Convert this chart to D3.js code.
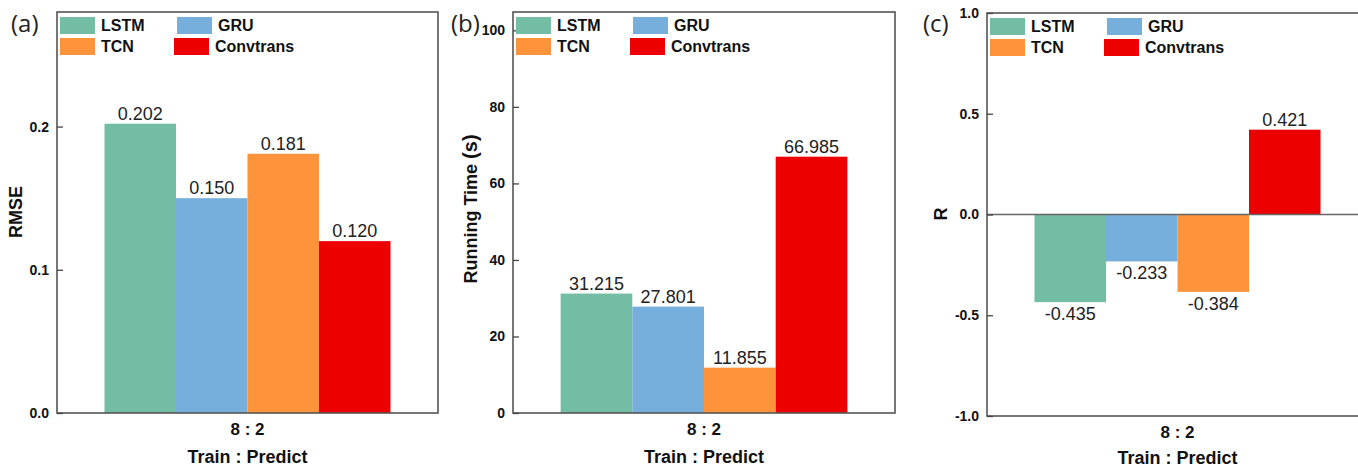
<!DOCTYPE html>
<html>
<head>
<meta charset="utf-8">
<script src="https://cdn.jsdelivr.net/npm/d3@7"></script>
<style>
  body { margin: 0; background: #fff; }
  svg { display: block; font-family: Arial, "Liberation Sans", sans-serif; }
</style>
</head>
<body>
<div id="chart"></div>
<script>
// data
const category = ["8 : 2"];
const models = ["LSTM", "GRU", "TCN", "Convtrans"];
const colors = ["#74bda5", "#76afdc", "#fd933a", "#ec0000"];
const rmse = [0.202, 0.150, 0.181, 0.120];
const runTime = [31.215, 27.801, 11.855, 66.985];
const rValues = [-0.435, -0.233, -0.384, 0.421];
const rmseTicks = [0.0, 0.1, 0.2];
const timeTicks = [0, 20, 40, 60, 80, 100];
const rTicks = [-1.0, -0.5, 0.0, 0.5, 1.0];

const svg = d3.select("#chart").append("svg")
    .attr("width", 1358).attr("height", 467);

const colorScale = d3.scaleOrdinal().domain(models).range(colors);
// plain hyphen for negatives, like the original figure
const hyph = f => (d => f(d).replace("\u2212", "-"));

function panel(opt) {
  const w = opt.width, h = opt.height;
  const g = svg.append("g").attr("transform", `translate(${opt.left},${opt.top})`);

  const x0 = d3.scaleBand().domain(category).range([0, w]).paddingInner(0).paddingOuter(0.166);
  const x1 = d3.scaleBand().domain(models).range([0, x0.bandwidth()]);
  const y = d3.scaleLinear().domain(opt.domain).range([h, 0]);

  // bars
  const grp = g.append("g").attr("transform", `translate(${x0(category[0])},0)`);
  const rows = models.map((m, i) => ({model: m, value: opt.values[i]}));
  grp.selectAll("rect")
    .data(rows)
    .enter()
    .append("rect")
      .attr("x", d => x1(d.model))
      .attr("y", d => y(Math.max(0, d.value)))
      .attr("width", x1.bandwidth())
      .attr("height", d => Math.abs(y(d.value) - y(0)))
      .style("fill", d => colorScale(d.model));

  grp.selectAll("text.val")
    .data(rows)
    .enter()
    .append("text")
      .attr("class", "val")
      .attr("x", d => x1(d.model) + x1.bandwidth() / 2)
      .attr("y", d => d.value >= 0 ? y(d.value) - 4 : y(d.value) + 18)
      .attr("text-anchor", "middle")
      .style("font-size", "18px")
      .style("fill", "#222")
      .text(d => hyph(opt.fmt)(d.value));

  // zero line
  if (opt.domain[0] < 0) {
    g.append("line")
      .attr("x1", 0).attr("x2", w)
      .attr("y1", y(0)).attr("y2", y(0))
      .style("stroke", "#666").style("stroke-width", 1.5);
  }

  // frame
  g.append("rect")
    .attr("width", w).attr("height", h)
    .style("fill", "none").style("stroke", "#555").style("stroke-width", 1.6);

  // y axis
  const ax = g.append("g")
    .call(d3.axisLeft(y).tickValues(opt.ticks).tickFormat(hyph(opt.tickFmt))
      .tickSizeInner(-6).tickSizeOuter(0).tickPadding(8));
  ax.select(".domain").remove();
  ax.selectAll("line").style("stroke", "#444").style("stroke-width", 1.3);
  ax.selectAll("text")
    .style("font-size", "14px").style("font-weight", "bold").style("fill", "#111");

  // x labels
  g.append("text")
    .attr("x", w / 2).attr("y", h + 22)
    .attr("text-anchor", "middle")
    .style("font-size", "17px").style("font-weight", "bold").style("fill", "#111")
    .text(category[0]);
  g.append("text")
    .attr("x", w / 2).attr("y", h + opt.xTitleDy)
    .attr("text-anchor", "middle")
    .style("font-size", "18px").style("font-weight", "bold").style("fill", "#111")
    .text("Train : Predict");

  // y title
  const yt = g.append("text")
    .attr("transform", `translate(${opt.titleX},${opt.titleY}) rotate(-90)`)
    .attr("text-anchor", "middle")
    .style("font-size", "18px").style("font-weight", "bold").style("fill", "#111");
  yt.append("tspan").text(opt.title);
  if (opt.unit) yt.append("tspan").style("font-size", "20px").text(opt.unit);

  // panel label
  svg.append("text")
    .attr("x", opt.labelX).attr("y", opt.labelY)
    .style("font-family", "'Open Sans', sans-serif")
    .style("font-size", "24px").style("fill", "#222")
    .text(opt.label);

  // legend
  const leg = g.append("g");
  models.forEach((m, i) => {
    const col = i % 2, row = Math.floor(i / 2);
    const lx = col === 0 ? 3 : (row === 0 ? 120 : 117);
    const ly = 5 + row * 21;
    leg.append("rect")
      .attr("x", lx).attr("y", ly)
      .attr("width", 35).attr("height", 17)
      .style("fill", colorScale(m));
    leg.append("text")
      .attr("x", lx + 41).attr("y", ly + 14)
      .style("font-size", "16px").style("font-weight", "bold").style("fill", "#111")
      .text(m);
  });
}

panel({left: 57, top: 12, width: 381, height: 401, domain: [0, 0.28],
  values: rmse, ticks: rmseTicks, tickFmt: d3.format(".1f"), fmt: d3.format(".3f"),
  title: "RMSE", titleX: -35, titleY: 200, xTitleDy: 50,
  label: "(a)", labelX: 11, labelY: 32});

panel({left: 513, top: 12, width: 382, height: 401, domain: [0, 104.8],
  values: runTime, ticks: timeTicks, tickFmt: d3.format("d"), fmt: d3.format(".3f"),
  title: "Running Time ", unit: "(s)", titleX: -36, titleY: 197, xTitleDy: 50,
  label: "(b)", labelX: 451, labelY: 32});

panel({left: 987, top: 13, width: 381, height: 403, domain: [-1, 1],
  values: rValues, ticks: rTicks, tickFmt: d3.format(".1f"), fmt: d3.format(".3f"),
  title: "R", titleX: -40, titleY: 201, xTitleDy: 48,
  label: "(c)", labelX: 923, labelY: 32});
</script>
</body>
</html>
